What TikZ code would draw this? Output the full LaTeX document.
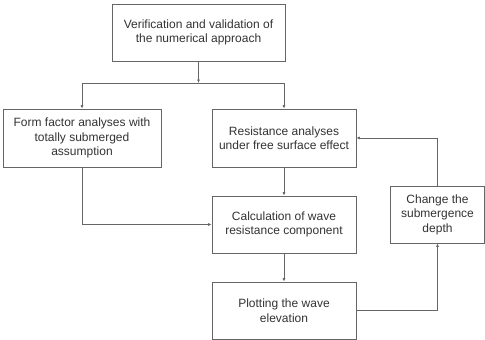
\documentclass[tikz,border=0pt]{standalone}
\usepackage{fontspec}
\setmainfont{Liberation Sans}
\usetikzlibrary{arrows.meta}
\begin{document}
\begin{tikzpicture}[x=1pt,y=-1pt,
  box/.style={draw=black!60,line width=0.7pt,fill=white,align=center,inner sep=0pt,
    font=\fontsize{12}{14.5}\selectfont,text=black!80},
  arr/.style={draw=black!60,line width=0.7pt,-{Latex[length=3.5pt,width=3pt]}}]
\useasboundingbox (0,0) rectangle (485,340);
\node[box,minimum width=173pt,minimum height=57pt] (top) at (198.5,32.5) {Verification and validation of\\the numerical approach};
\node[box,minimum width=158pt,minimum height=58pt] (left) at (82,138) {Form factor analyses with\\totally submerged\\assumption};
\node[box,minimum width=144pt,minimum height=58pt] (res) at (284,138) {Resistance analyses\\under free surface effect};
\node[box,minimum width=144pt,minimum height=57pt] (calc) at (284,224.5) {Calculation of wave\\resistance component};
\node[box,minimum width=144pt,minimum height=57pt] (plot) at (284,310.5) {Plotting the wave\\elevation};
\node[box,minimum width=94pt,minimum height=57pt] (chg) at (437.5,214.5) {Change the\\submergence\\depth};
\coordinate (j) at (198.5,83);
\draw[arr] (top) -- (j);
\draw[arr] (j) -| (left.north);
\draw[arr] (j) -| (res.north);
\draw[arr] (left.south) |- (calc.west);
\draw[arr] (res) -- (calc);
\draw[arr] (calc) -- (plot);
\draw[arr] (plot.east) -| (chg.south);
\draw[arr] (chg.north) |- (res.east);
\end{tikzpicture}
\end{document}
